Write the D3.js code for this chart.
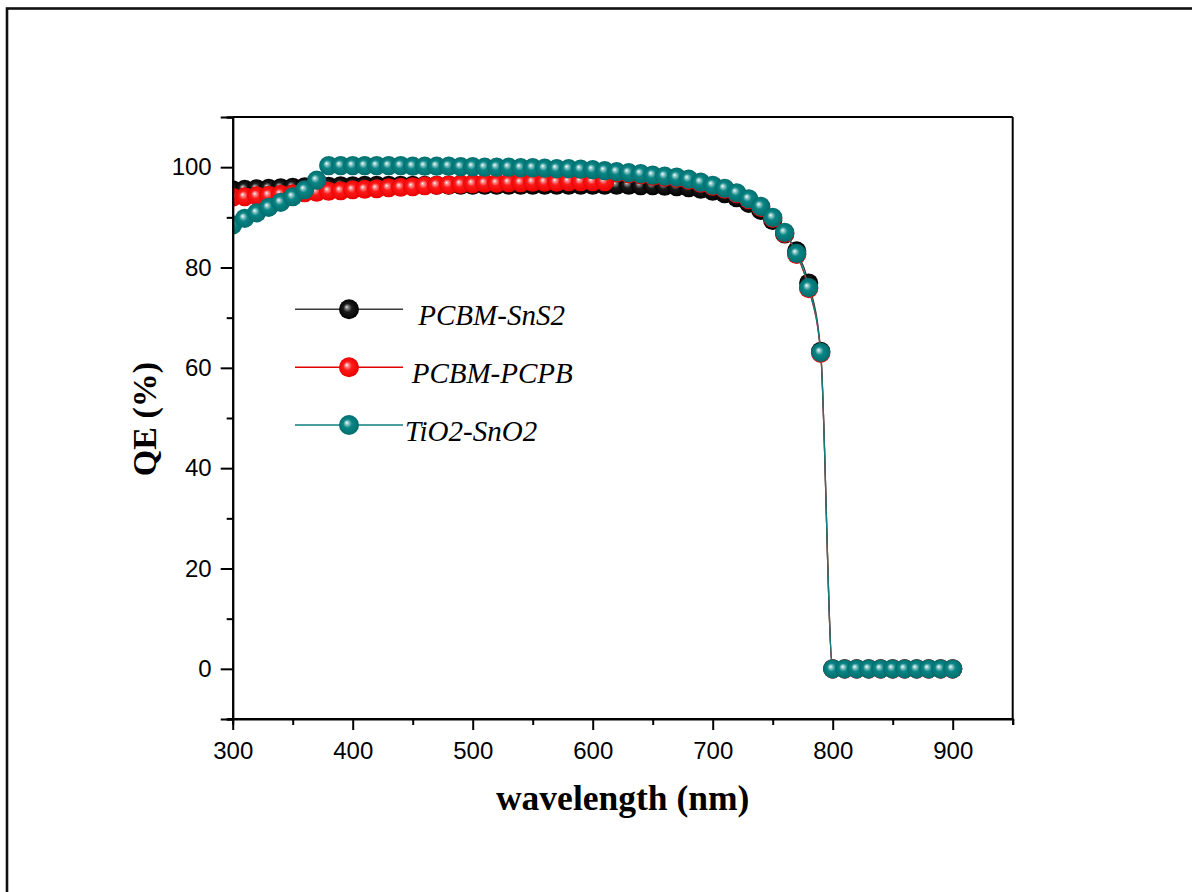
<!DOCTYPE html>
<html>
<head>
<meta charset="utf-8">
<script src="https://cdn.jsdelivr.net/npm/d3@7"></script>
<style>
  html, body { margin: 0; padding: 0; background: #fff; }
  svg { display: block; }
</style>
</head>
<body>
<svg id="chart" width="1192" height="892"></svg>
<script>
// Wavelength grid (nm)
const wavelength = [300,310,320,330,340,350,360,370,380,390,400,410,420,430,440,450,460,470,480,490,
  500,510,520,530,540,550,560,570,580,590,600,610,620,630,640,650,660,670,680,690,
  700,710,720,730,740,750,760,770,780,790,800,810,820,830,840,850,860,870,880,890,900];

// Quantum efficiency (%) for each device stack
const qeSnS2 = [95.5,95.6,95.7,95.8,95.9,96.0,96.1,96.2,96.2,96.3,96.3,96.4,96.4,96.4,96.4,96.4,96.4,96.4,96.4,96.4,
  96.4,96.4,96.4,96.4,96.4,96.4,96.4,96.4,96.4,96.4,96.4,96.4,96.4,96.4,96.3,96.3,96.2,96.1,95.9,95.6,
  95.2,94.7,93.9,92.8,91.4,89.4,86.7,83.3,76.9,63.3,0,0,0,0,0,0,0,0,0,0,0];
const qePCPB = [94.0,94.1,94.3,94.4,94.6,94.7,94.9,95.0,95.2,95.3,95.5,95.6,95.7,95.9,96.0,96.1,96.3,96.4,96.5,96.6,
  96.7,96.8,96.8,96.9,96.9,97.0,97.0,97.0,97.1,97.1,97.1,97.1,98.9,98.7,98.5,98.2,98.0,97.8,97.4,96.8,
  96.2,95.6,94.7,93.5,92.0,89.8,86.8,82.6,75.8,62.9,0,0,0,0,0,0,0,0,0,0,0];
const qeSnO2 = [88.5,89.8,90.9,92.0,93.0,94.1,95.5,97.4,100.3,100.3,100.3,100.3,100.3,100.3,100.3,100.2,100.2,100.2,100.2,100.1,
  100.1,100.0,100.0,100.0,99.9,99.9,99.8,99.7,99.7,99.6,99.5,99.3,99.1,98.9,98.7,98.4,98.2,98.0,97.6,97.0,
  96.4,95.8,94.9,93.7,92.2,90.0,87.0,82.8,76.0,63.1,0,0,0,0,0,0,0,0,0,0,0];

const seriesNames = ["PCBM-SnS2", "PCBM-PCPB", "TiO2-SnO2"];
const seriesValues = [qeSnS2, qePCPB, qeSnO2];

const xMajorTicks = [300,400,500,600,700,800,900];
const xMinorTicks = [350,450,550,650,750,850,950];
const yMajorTicks = [0,20,40,60,80,100];
const yMinorTicks = [-10,10,30,50,70,90,110];

// Sphere shading per series: [highlight, mid, body, edge], plus line colour
const sphereStyles = [
  { id: "sph-black", stops: ["#f4f4f4", "#8a8a8a", "#1a1a1a", "#000000"], line: "#3a3a3a" },
  { id: "sph-red",   stops: ["#ffffff", "#ff9a9a", "#ff1a1a", "#e80000"], line: "#e00000" },
  { id: "sph-teal",  stops: ["#ffffff", "#9fd0d0", "#0a8585", "#006b6b"], line: "#127f7f" }
];

const svg = d3.select("#chart");
const W = 1192, H = 892;
const plot = { left: 232.7, right: 1012.7, top: 117, bottom: 719 };

svg.append("rect").attr("width", W).attr("height", H).attr("fill", "#fff");

// Outer figure frame (extends past the page edge on right/bottom)
svg.append("rect")
  .attr("x", 7).attr("y", 8.5).attr("width", 1260).attr("height", 960)
  .attr("fill", "none").attr("stroke", "#111").attr("stroke-width", 2.6);

const defs = svg.append("defs");
sphereStyles.forEach(s => {
  const g = defs.append("radialGradient").attr("id", s.id)
    .attr("cx", 0.5).attr("cy", 0.5).attr("r", 0.52)
    .attr("fx", 0.38).attr("fy", 0.38);
  g.append("stop").attr("offset", "0%").attr("stop-color", s.stops[0]);
  g.append("stop").attr("offset", "14%").attr("stop-color", s.stops[1]);
  g.append("stop").attr("offset", "42%").attr("stop-color", s.stops[2]);
  g.append("stop").attr("offset", "100%").attr("stop-color", s.stops[3]);
});
defs.append("clipPath").attr("id", "plot-clip")
  .append("rect")
  .attr("x", plot.left).attr("y", plot.top)
  .attr("width", plot.right - plot.left).attr("height", plot.bottom - plot.top);

const x = d3.scaleLinear().domain([300, 950]).range([plot.left, plot.right]);
const y = d3.scaleLinear().domain([-10, 110]).range([plot.bottom, plot.top]);

// Data: lines and sphere markers, drawn in series order
const dataLayer = svg.append("g").attr("clip-path", "url(#plot-clip)");
const lineGen = d3.line()
  .x(d => x(d[0])).y(d => y(d[1]))
  .curve(d3.curveMonotoneX);

seriesValues.forEach((vals, i) => {
  const pts = wavelength.map((w, k) => [w, vals[k]]);
  const g = dataLayer.append("g");
  g.append("path").datum(pts)
    .attr("d", lineGen)
    .attr("fill", "none")
    .attr("stroke", sphereStyles[i].line)
    .attr("stroke-width", 1.3);
  g.selectAll("circle").data(pts).join("circle")
    .attr("cx", d => x(d[0]))
    .attr("cy", d => y(d[1]))
    .attr("r", 9.6)
    .attr("fill", `url(#${sphereStyles[i].id})`);
});

// Plot box (top and right edges)
const boxColor = "#000";
svg.append("line").attr("x1", plot.left).attr("x2", plot.right)
  .attr("y1", plot.top).attr("y2", plot.top)
  .attr("stroke", boxColor).attr("stroke-width", 2);
svg.append("line").attr("x1", plot.right).attr("x2", plot.right)
  .attr("y1", plot.top).attr("y2", plot.bottom)
  .attr("stroke", boxColor).attr("stroke-width", 2);

// Axes
const tickFont = "'Liberation Sans', Arial, sans-serif";

const xAxis = svg.append("g").attr("transform", `translate(0,${plot.bottom})`)
  .call(d3.axisBottom(x).tickValues(xMajorTicks).tickSize(11).tickPadding(12).tickFormat(d3.format("d")));
const xMinor = svg.append("g").attr("transform", `translate(0,${plot.bottom})`)
  .call(d3.axisBottom(x).tickValues(xMinorTicks).tickSize(6).tickFormat(""));

const yAxis = svg.append("g").attr("transform", `translate(${plot.left},0)`)
  .call(d3.axisLeft(y).tickValues(yMajorTicks).tickSize(12).tickPadding(9).tickFormat(d3.format("d")));
const yMinor = svg.append("g").attr("transform", `translate(${plot.left},0)`)
  .call(d3.axisLeft(y).tickValues(yMinorTicks).tickSize(6).tickFormat(""));

[xAxis, xMinor, yAxis, yMinor].forEach(a => {
  a.select(".domain").attr("stroke", "#000").attr("stroke-width", 2);
  a.selectAll(".tick line").attr("stroke", "#000").attr("stroke-width", 2);
  a.selectAll(".tick text")
    .attr("fill", "#000")
    .style("font-family", tickFont)
    .style("font-size", "24px");
});
// Let the axis lines reach the left minor ticks at the corners
xAxis.select(".domain").attr("d", `M${plot.left - 5},0H${plot.right}`);

// Axis titles
svg.append("text")
  .attr("x", (plot.left + plot.right) / 2).attr("y", 810)
  .attr("text-anchor", "middle")
  .style("font-family", "'Liberation Serif', 'Times New Roman', serif")
  .style("font-weight", "bold").style("font-size", "35.5px")
  .text("wavelength (nm)");

svg.append("text")
  .attr("transform", "translate(156,419) rotate(-90)")
  .attr("text-anchor", "middle")
  .style("font-family", "'Liberation Serif', 'Times New Roman', serif")
  .style("font-weight", "bold").style("font-size", "34px")
  .text("QE (%)");

// Legend
const legendRows = [
  { y: 309.3, textX: 418.3, baseline: 325 },
  { y: 367.3, textX: 411.7, baseline: 383 },
  { y: 425,   textX: 405,   baseline: 441 }
];
const legend = svg.append("g");
seriesNames.forEach((name, i) => {
  const r = legendRows[i];
  legend.append("line")
    .attr("x1", 295).attr("x2", 403).attr("y1", r.y).attr("y2", r.y)
    .attr("stroke", sphereStyles[i].line).attr("stroke-width", 1.4);
  legend.append("circle")
    .attr("cx", 349).attr("cy", r.y).attr("r", 10)
    .attr("fill", `url(#${sphereStyles[i].id})`);
  legend.append("text")
    .attr("x", r.textX).attr("y", r.baseline)
    .style("font-family", "'Liberation Serif', 'Times New Roman', serif")
    .style("font-style", "italic").style("font-size", "29px")
    .attr("fill", "#000")
    .text(name);
});
</script>
</body>
</html>
